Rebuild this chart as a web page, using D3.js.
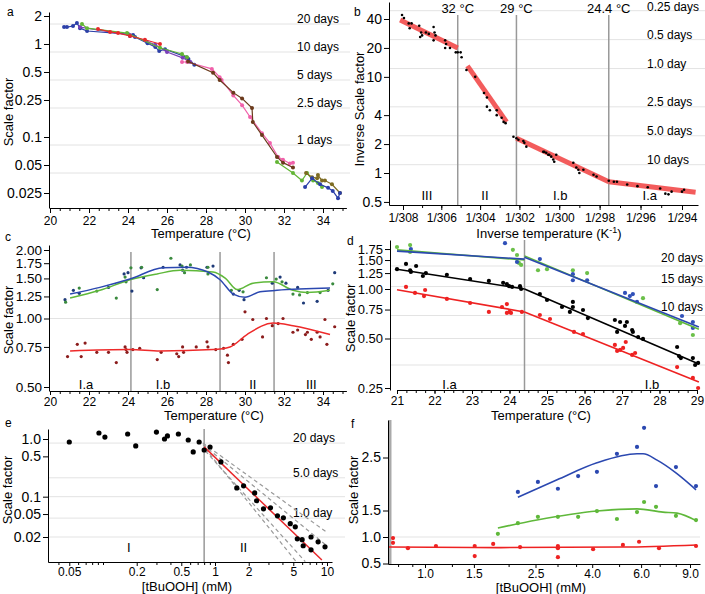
<!DOCTYPE html>
<html><head><meta charset="utf-8">
<script src="https://cdnjs.cloudflare.com/ajax/libs/d3/7.8.5/d3.min.js"></script>
<style>body{margin:0;background:#fff;}</style>
</head><body>
<svg id="c" width="705" height="594"></svg>
<script>
// ---------------- DATA ----------------
// Panel a : scale factor vs temperature (°C), several series
const aBlue1 = [[20.72,1.52],[20.87,1.52],[21.18,1.56],[21.38,1.68],[21.54,1.48],[21.9,1.38],[24.0,1.28],[24.1,1.22],[24.26,1.25],[24.36,1.19],[25.0,1.02],[25.4,0.93],[25.6,0.84],[25.9,0.88],[27.0,0.72],[27.1,0.69],[27.4,0.60]];
const aGreen1 = [[21.64,1.64],[21.9,1.48],[23.95,1.31],[25.64,0.91],[26.77,0.78],[27.03,0.72]];
const aRed = [[22.46,1.45],[23.08,1.35],[23.49,1.31],[24.1,1.22],[24.87,1.11],[25.64,1.0]];
const aPurple = [[21.54,1.52],[24.1,1.25],[25.4,0.98],[26.0,0.82],[26.8,0.71],[27.2,0.64]];
const aPink = [[26.77,0.64],[27.03,0.64],[28.3,0.54],[28.7,0.44],[28.8,0.41],[29.4,0.28],[29.85,0.22],[30.26,0.164],[30.87,0.11],[31.28,0.086],[31.7,0.061],[31.95,0.057],[32.3,0.052],[32.46,0.053]];
const aBrown = [[27.08,0.65],[28.36,0.49],[28.7,0.41],[29.4,0.30],[29.85,0.26],[30.36,0.205],[30.4,0.145],[30.87,0.105],[31.64,0.061],[31.95,0.053],[32.46,0.047]];
const aGreen2 = [[31.64,0.054],[32.46,0.041],[32.92,0.034],[33.18,0.041],[33.49,0.034],[33.74,0.032],[33.95,0.029]];
const aBlue2 = [[33.08,0.029],[33.44,0.036],[33.85,0.031],[34.26,0.0284],[34.5,0.0263],[34.77,0.022],[34.87,0.025]];
const aOlive = [[33.13,0.041],[33.44,0.037],[33.7,0.036],[33.74,0.039],[33.95,0.034],[34.1,0.034],[34.46,0.031],[34.87,0.025]];
const aTicksY = [2,1,0.5,0.25,0.1,0.05,0.025];
const aTicksX = [20,22,24,26,28,30,32,34];
const aGrid = [1.64,0.82,0.41,0.205,0.082,0.041];
const aDayLabels = ["20 days","10 days","5 days","2.5 days","1 days"];

// Panel b : inverse scale factor vs inverse temperature
const bDots = [[34.9,44],[34.8,41],[34.55,36],[34.4,36],[34.5,32],[34.0,34],[33.9,29],[33.85,27],[33.95,26],[33.65,29],[33.5,28],[33.25,33],[33.2,29],[33.15,27],[33.25,24],[32.65,24],[32.6,22],[32.65,20],[32.4,20],[32.1,18],[32.0,18],[31.85,18],[31.8,16],
 [31.55,11.8],[31.1,10],[30.65,6.8],[30.5,6.1],[30.5,4.9],[30.35,4.5],[30.0,4.5],[30.0,4.0],[29.75,3.76],[29.65,3.4],[29.55,3.3],
 [29.15,2.38],[29.0,2.3],[28.9,2.22],[28.65,2.15],[28.6,2.06],[28.5,1.88],[27.65,1.66],[27.6,1.66],[27.5,1.62],[27.4,1.55],[27.35,1.55],[27.25,1.48],[27.15,1.38],[27.1,1.31],[27.0,1.55],[26.15,1.28],[26.0,1.14],[25.9,1.08],[25.85,1.0],[25.65,1.08],[25.15,0.96],[25.0,0.92],
 [24.4,0.83],[24.15,0.81],[24.0,0.81],[23.5,0.76],[23.0,0.73],[22.5,0.71],[21.9,0.69],[21.65,0.61],[21.5,0.60],[21.35,0.64],[20.85,0.64],[20.75,0.67]];
const bFits = [[[35.0,39],[32,20]],[[31.5,13],[29.5,3.4]],[[29,2.3],[24.4,0.81]],[[24.4,0.81],[20.2,0.63]]];
const bBreaks = [32,29,24.4];
const bRegions = [["III",33.6],["II",30.6],["I.b",26.8],["I.a",22.4]];
const bTicksY = [40,20,10,4,2,1,0.5];
const bTicksK = [308,306,304,302,300,298,296,294];
const bGrid = [48.8,24.4,12.2,4.88,2.44,1.22];
const bDayLabels = ["0.25 days","0.5 days","1.0 day","2.5 days","5.0 days","10 days"];

// Panel c
const cUpperDots = [[20.77,1.21],[20.8,1.18],[21.2,1.33],[21.5,1.36],[21.5,1.29],[22.4,1.32],[23.0,1.37],[23.4,1.23],[23.8,1.57],[23.85,1.52],[24.0,1.59],[24.15,1.67],[24.2,1.32],[23.9,1.45],[24.67,1.67],[24.7,1.68],[24.8,1.51],[25.5,1.34],[25.8,1.68],[26.2,1.84],[26.67,1.72],[26.77,1.70],[26.8,1.63],[26.9,1.59],[27.0,1.68],[27.2,1.72],[28.05,1.68],[28.1,1.68],[28.36,1.70],[28.1,1.57],[29.4,1.28],[29.3,1.33],[29.7,1.33],[29.9,1.31],[29.95,1.21],[31.1,1.51],[31.4,1.43],[31.6,1.49],[31.8,1.52],[31.9,1.45],[32.1,1.43],[32.46,1.28],[32.7,1.37],[32.8,1.27],[33.0,1.17],[33.2,1.30],[33.7,1.19],[33.85,1.30],[34.26,1.33],[34.5,1.42],[34.6,1.59]];
const cRedDots = [[20.9,0.68],[21.4,0.77],[21.6,0.68],[21.8,0.78],[22.4,0.71],[23.0,0.71],[23.4,0.64],[23.85,0.75],[23.9,0.73],[23.95,0.71],[24.25,0.73],[24.6,0.74],[25.5,0.66],[25.7,0.71],[26.5,0.70],[26.6,0.68],[26.8,0.75],[26.85,0.71],[27.5,0.75],[28.05,0.79],[28.1,0.75],[28.5,0.73],[28.9,0.74],[29.1,0.69],[29.15,0.64],[29.4,0.77],[29.85,0.81],[30.0,1.07],[30.4,0.99],[30.9,0.83],[31.1,1.0],[31.4,0.93],[31.7,0.95],[31.95,1.0],[32.46,0.87],[32.7,0.89],[33.1,0.85],[33.2,0.87],[33.4,0.81],[33.7,0.87],[33.85,0.83],[34.1,0.99],[34.2,0.77],[34.6,0.92]];
const cBlueLine = [[21.03,1.28],[22.56,1.37],[24.1,1.49],[25.8,1.67],[27.0,1.68],[28.1,1.60],[28.72,1.48],[29.4,1.28],[30.0,1.24],[30.77,1.31],[31.64,1.33],[34.36,1.36]];
const cGreenLine = [[21.03,1.23],[22.56,1.33],[24.1,1.48],[25.49,1.57],[26.67,1.63],[28.36,1.60],[29.0,1.50],[29.6,1.34],[30.41,1.43],[31.44,1.45],[32.46,1.33],[33.18,1.30],[34.36,1.33]];
const cRedLine = [[21.03,0.72],[24.1,0.73],[25.64,0.72],[28.36,0.73],[29.23,0.75],[30.1,0.85],[31.44,0.955],[32.46,0.93],[34.36,0.85]];
const cBreaks = [24.15,28.72,31.49];
const cRegions = [["I.a",21.85],["I.b",25.8],["II",30.4],["III",33.4]];
const cTicksY = [2.00,1.75,1.50,1.25,1.00,0.75,0.50];

// Panel d
const dGreenDots = [[21.0,1.80],[21.35,1.85],[21.35,1.68],[24.09,1.73],[24.2,1.61],[24.25,1.44],[24.31,1.40],[24.76,1.30],[25.0,1.32],[25.69,1.30],[26.07,1.25],[27.56,0.88],[28.55,0.62],[28.89,0.525]];
const dBlueDots = [[21.37,1.75],[23.88,1.90],[24.2,1.46],[24.81,1.52],[25.69,1.23],[25.69,1.13],[26.07,1.13],[27.08,0.946],[27.21,0.906],[27.29,0.932],[27.4,0.834],[28.6,0.685],[28.89,0.63],[28.89,0.579]];
const dBlackDots = [[21.0,1.32],[21.24,1.42],[21.35,1.30],[21.37,1.27],[21.51,1.38],[21.69,1.20],[21.77,1.25],[22.33,1.22],[22.95,1.15],[23.45,1.12],[23.83,1.09],[23.93,1.07],[23.99,1.04],[24.07,1.03],[24.28,1.04],[24.31,1.0],[24.81,0.932],[25.0,0.857],[25.4,0.777],[25.61,0.725],[25.69,0.834],[25.69,0.777],[25.96,0.745],[26.09,0.666],[26.81,0.648],[26.87,0.548],[26.95,0.63],[27.08,0.596],[27.13,0.63],[27.27,0.563],[27.29,0.548],[27.43,0.51],[27.56,0.497],[28.47,0.444],[28.52,0.391],[28.57,0.38],[28.89,0.38],[28.95,0.345],[29.03,0.355]];
const dRedDots = [[21.24,1.03],[21.48,0.946],[21.72,0.906],[21.75,0.986],[22.33,0.87],[22.95,0.822],[23.45,0.725],[23.8,0.777],[23.93,0.81],[23.93,0.715],[24.0,0.725],[24.04,0.715],[24.33,0.725],[24.81,0.695],[25.08,0.657],[25.72,0.548],[25.96,0.532],[26.81,0.457],[26.87,0.42],[26.95,0.426],[27.03,0.438],[27.1,0.476],[27.27,0.397],[27.35,0.408],[28.47,0.335],[28.89,0.288],[29.03,0.25]];
const dGreenFit = [[[21.0,1.73],[24.4,1.50]],[[24.4,1.59],[29.05,0.57]]];
const dBlueFit = [[[21.0,1.70],[24.4,1.52]],[[24.4,1.56],[29.05,0.587]]];
const dBlackFit = [[[21.0,1.32],[24.4,1.0]],[[24.4,1.0],[29.05,0.35]]];
const dRedFit = [[[21.0,0.99],[24.4,0.725]],[[24.4,0.725],[29.05,0.272]]];
const dBreak = 24.4;
const dRegions = [["I.a",22.4],["I.b",27.8]];
const dTicksY = [1.75,1.50,1.25,1.00,0.75,0.50,0.25];
const dTicksX = [21,22,23,24,25,26,27,28,29];
const dGrid = [1.38,1.035,0.69,0.5,0.345];
const dDayLabels = ["20 days","15 days","10 days"];

// Panel e
const eDots = [[0.05,0.887],[0.092,1.27],[0.104,1.08],[0.166,1.22],[0.196,0.757],[0.30,1.32],[0.354,1.0],[0.376,1.13],[0.471,1.22],[0.577,0.96],[0.639,0.596],[0.722,0.887],[0.80,0.645],[0.903,0.727],[1.13,0.40],[1.565,0.142],[1.80,0.154],[2.26,0.116],[2.35,0.085],[2.71,0.0617],[3.13,0.064],[3.61,0.0465],[4.08,0.043],[4.70,0.034],[5.21,0.030],[5.43,0.0186],[6.0,0.018],[6.13,0.0141],[7.2,0.020],[7.2,0.012],[8.33,0.0165],[9.6,0.0135]];
const eFit = [[0.80,0.73],[9.0,0.008]];
const eDash = [[[0.78,0.85],[10,0.024]],[[0.78,0.80],[10,0.014]],[[0.82,0.62],[6.4,0.0075]],[[0.82,0.68],[5.3,0.0075]]];
const eBreak = 0.80;
const eRegions = [["I",0.17],["II",1.8]];
const eTicksY = [1.0,0.5,0.1,0.05,0.02];
const eTicksX = [0.05,0.2,0.5,1,2,5,10];
const eGrid = [0.85,0.2125,0.0425];
const eDayLabels = ["20 days","5.0 days","1.0 day"];

// Panel f
const fBlueDots = [[2.16,1.85],[2.55,2.04],[3.01,1.91],[3.56,2.15],[4.16,2.23],[4.91,2.57],[5.80,2.70],[6.15,3.06],[6.79,1.96],[8.01,2.32],[9.46,1.96]];
const fBlueLine = [[2.16,1.75],[2.99,2.08],[4.16,2.40],[5.80,2.57],[6.10,2.57],[6.85,2.45],[8.01,2.21],[9.23,1.94],[9.46,1.89]];
const fGreenDots = [[1.83,1.06],[2.16,1.26],[2.55,1.38],[3.01,1.38],[3.56,1.38],[4.16,1.49],[4.91,1.34],[5.80,1.47],[6.15,1.66],[6.79,1.57],[8.01,1.40],[9.46,1.32]];
const fGreenLine = [[1.83,1.17],[2.53,1.32],[4.16,1.49],[5.80,1.53],[7.19,1.47],[8.08,1.45],[9.54,1.30]];
const fRedDots = [[0.767,0.98],[0.767,0.89],[0.868,0.79],[1.095,0.83],[1.51,0.83],[1.51,0.64],[1.76,0.87],[2.20,0.81],[3.01,0.83],[3.01,0.79],[3.01,0.62],[4.03,0.77],[5.16,0.85],[5.90,0.91],[6.96,0.79],[9.46,0.83]];
const fRedLine = [[0.742,0.81],[1.83,0.80],[5.16,0.81],[9.54,0.85]];
const fTicksY = [2.5,1.5,1.0,0.5];
const fTicksX = [1.0,1.5,2.5,4.0,6.0,9.0];

// ---------------- DRAWING ----------------
const FONT = '"Liberation Sans", Arial, Helvetica, sans-serif';
const svg = d3.select('#c').attr('font-family', FONT);
svg.append('rect').attr('width',705).attr('height',594).attr('fill','#fff');
const GRID = '#e3e3e3';
const TX = 12;   // x tick label size
const DAYF = 12; // day annotation size

function ext(s, r0, r1){ return s.copy().domain([s.invert(r0), s.invert(r1)]).range([r0, r1]); }
function styleAx(g, fs){ g.attr('font-family', FONT).attr('font-size', fs); g.selectAll('text').attr('fill','#000'); g.selectAll('line,path').attr('stroke','#000'); return g; }
function axisL(y, x, vals, fmt, fs){ return styleAx(svg.append('g').attr('transform',`translate(${x},0)`).call(d3.axisLeft(y).tickValues(vals).tickFormat(fmt).tickSize(5).tickSizeOuter(0).tickPadding(2)), fs); }
function axisB(xs, y, vals, fmt, fs, ts=5, pad=3){ return styleAx(svg.append('g').attr('transform',`translate(0,${y})`).call(d3.axisBottom(xs).tickValues(vals).tickFormat(fmt).tickSize(ts).tickSizeOuter(0).tickPadding(pad)), fs); }
function minorB(xs, y, vals){ const g = svg.append('g').attr('transform',`translate(0,${y})`).call(d3.axisBottom(xs).tickValues(vals).tickFormat('').tickSize(3).tickSizeOuter(0)); g.select('.domain').remove(); g.selectAll('line').attr('stroke','#000'); }
function text(x, y, s, fs, anchor='start', rot=false){ const t = svg.append('text').attr('font-size', fs).attr('text-anchor', anchor).attr('fill','#000').text(s); if(rot) t.attr('transform',`translate(${x},${y}) rotate(-90)`); else t.attr('x',x).attr('y',y); return t; }
function hgrid(y, vals, x0, x1){ svg.append('g').selectAll('line').data(vals).join('line').attr('x1',x0).attr('x2',x1).attr('y1',d=>y(d)).attr('y2',d=>y(d)).attr('stroke',GRID).attr('stroke-width',1); }
function dots(data, x, y, r, col){ svg.append('g').selectAll('circle').data(data).join('circle').attr('cx',d=>x(d[0])).attr('cy',d=>y(d[1])).attr('r',r).attr('fill',typeof col==='function'?((d,i)=>col(i)):col); }
function path(data, x, y, col, w, curve=d3.curveLinear, dash=null, op=1){ const p = svg.append('path').datum(data).attr('d', d3.line().x(d=>x(d[0])).y(d=>y(d[1])).curve(curve)).attr('fill','none').attr('stroke',col).attr('stroke-width',w).attr('opacity',op); if(dash) p.attr('stroke-dasharray',dash); return p; }
function range(a,b,s){ const r=[]; for(let v=a; v<=b+1e-9; v+=s) r.push(+v.toFixed(4)); return r; }

// ===== Panel a =====
{
  const x = d3.scaleLinear().domain([20,35.2]).range([50,346.4]);
  const y = ext(d3.scaleLog().domain([2,0.025]).range([16,193]), 12, 208);
  hgrid(y, aGrid, 49, 350);
  aDayLabels.forEach((s,i)=> text(297, y(aGrid[i])-1, s, DAYF));
  axisL(y, 49, aTicksY, d=>String(d), 14);
  minorB(x, 208, range(20,35,0.5));
  axisB(x, 208, aTicksX, d=>d, TX);
  const series = [[aBlue1,'#2b3fa8'],[aPurple,'#7a3fb8'],[aGreen1,'#62b534'],[aRed,'#e8282b'],[aPink,'#f060aa'],[aBrown,'#6b3a1c'],[aGreen2,'#62b534'],[aOlive,'#7d6b22'],[aBlue2,'#2b3fa8']];
  series.forEach(([d,c])=>{ path(d,x,y,c,1.2); dots(d,x,y,2,c); });
  text(201, 238, 'Temperature (°C)', 13, 'middle');
  text(13, 112, 'Scale factor', 13, 'middle', true);
  text(7, 16, 'a', 12);
}

// ===== Panel b =====
{
  const xi = d3.scaleLinear().domain([1/308, 1/294]).range([403,682]);
  const xe = ext(xi, 389, 698);
  const xT = t => xe(1/(t+273.15));
  const y = ext(d3.scaleLog().domain([40,1]).range([19,173]), 2, 205);
  hgrid(y, bGrid, 389, 705);
  bDayLabels.forEach((s,i)=> text(647, Math.max(11, y(bGrid[i])-1), s, DAYF));
  bBreaks.forEach(b=>{
    svg.append('line').attr('x1',xT(b)).attr('x2',xT(b)).attr('y1',15).attr('y2',205).attr('stroke','#999').attr('stroke-width',1.5);
    text(xT(b), 13, b+' °C', 13, 'middle');
  });
  axisL(y, 389, bTicksY, d=>String(d), 14);
  minorB(xe, 205, range(294,308,1).map(k=>1/k));
  axisB(xe, 205, bTicksK.map(k=>1/k), v=>'1/'+Math.round(1/v), TX);
  bFits.forEach(f=> path(f, xT, y, '#f24a4a', 5, d3.curveLinear, null, 0.9));
  dots(bDots, xT, y, 1.3, '#000');
  bRegions.forEach(([s,t])=> text(xT(t), 200, s, 13, 'middle'));
  const tt = text(549, 238, 'Inverse temperature (K', 13, 'middle');
  tt.append('tspan').attr('baseline-shift','super').attr('font-size',9).text('-1');
  tt.append('tspan').text(')');
  text(364, 109, 'Inverse Scale factor', 13, 'middle', true);
  text(354, 16, 'b', 12);
}

// ===== Panel c =====
{
  const x = d3.scaleLinear().domain([20,35.2]).range([50,346.4]);
  const y = ext(d3.scaleLog().domain([2,0.5]).range([250,387]), 245, 391);
  hgrid(y, [1.0], 49, 345);
  cBreaks.forEach(b=> svg.append('line').attr('x1',x(b)).attr('x2',x(b)).attr('y1',252).attr('y2',391).attr('stroke','#999').attr('stroke-width',1.5));
  axisL(y, 49, cTicksY, d=>d.toFixed(2), 13.5);
  minorB(x, 391, range(20,35,0.5));
  axisB(x, 391, aTicksX, d=>d, TX, 4, 2);
  dots(cUpperDots, x, y, 1.6, i=> i%2 ? '#3a8a3e' : '#1e3a78');
  dots(cRedDots, x, y, 1.6, '#8b1c1c');
  path(cGreenLine, x, y, '#5fb83a', 1.5, d3.curveMonotoneX);
  path(cBlueLine, x, y, '#2b48b0', 1.5, d3.curveMonotoneX);
  path(cRedLine, x, y, '#ee2a2a', 1.5, d3.curveMonotoneX);
  cRegions.forEach(([s,t])=> text(x(t), 389, s, 13, 'middle'));
  text(214, 420, 'Temperature (°C)', 13, 'middle');
  text(13, 320, 'Scale factor', 13, 'middle', true);
  text(5, 241, 'c', 12);
}

// ===== Panel d =====
{
  const x = d3.scaleLinear().domain([21,29]).range([397,697]);
  const y = ext(d3.scaleLog().domain([1,0.25]).range([289,388]), 240, 390);
  hgrid(y, dGrid, 390, 705);
  dDayLabels.forEach((s,i)=> text(661, y(dGrid[i])-4, s, DAYF));
  svg.append('line').attr('x1',x(dBreak)).attr('x2',x(dBreak)).attr('y1',240).attr('y2',390).attr('stroke','#999').attr('stroke-width',1.5);
  axisL(y, 390, dTicksY, d=>d.toFixed(2), 13);
  minorB(x, 390, range(21,29,0.25));
  axisB(x, 390, dTicksX, d=>d, TX, 4, 2);
  [[dGreenDots,'#6cc04a'],[dBlueDots,'#3050b8'],[dBlackDots,'#000'],[dRedDots,'#ee2222']].forEach(([d,c])=> dots(d,x,y,2.1,c));
  [[dGreenFit,'#5fb83a'],[dBlueFit,'#2b48b0'],[dBlackFit,'#000'],[dRedFit,'#ee2222']].forEach(([f,c])=> f.forEach(seg=> path(seg,x,y,c,1.6)));
  dRegions.forEach(([s,t])=> text(x(t), 389, s, 13, 'middle'));
  text(541, 420, 'Temperature (°C)', 13, 'middle');
  text(355, 318, 'Scale factor', 13, 'middle', true);
  text(347, 245, 'd', 12);
}

// ===== Panel e =====
{
  const x = ext(d3.scaleLog().domain([1,10]).range([215,327]), 48, 332);
  const y = ext(d3.scaleLog().domain([1,0.02]).range([439,537]), 429, 562);
  hgrid(y, eGrid.concat([0.1,0.02]), 48, 345);
  eDayLabels.forEach((s,i)=> text(293, y(eGrid[i])-1, s, DAYF));
  svg.append('line').attr('x1',x(eBreak)).attr('x2',x(eBreak)).attr('y1',429).attr('y2',562).attr('stroke','#999').attr('stroke-width',1.5);
  axisL(y, 48, eTicksY, d=>String(d).length<3? d.toFixed(1): String(d), 14);
  minorB(x, 562, [0.04,0.06,0.07,0.08,0.09,0.1,0.3,0.4,0.6,0.7,0.8,0.9,3,4,6,7,8,9]);
  axisB(x, 562, eTicksX, d=>String(d), TX, 4, 1);
  eDash.forEach(seg=> path(seg, x, y, '#999', 1.2, d3.curveLinear, '4,3'));
  path(eFit, x, y, '#e8282b', 1.5);
  dots(eDots, x, y, 2.6, '#000');
  eRegions.forEach(([s,t])=> text(x(t), 552, s, 13, 'middle'));
  text(187, 591, '[tBuOOH] (mM)', 13, 'middle');
  text(12, 490, 'Scale factor', 13, 'middle', true);
  text(5, 427, 'e', 12);
}

// ===== Panel f =====
{
  const x = ext(d3.scaleLog().domain([1,9]).range([425,690]), 388, 700);
  const y = ext(d3.scaleLinear().domain([1,2.5]).range([537,457.5]), 420, 564);
  hgrid(y, [1.0], 388, 700);
  svg.append('line').attr('x1',390).attr('x2',390).attr('y1',420).attr('y2',564).attr('stroke','#aaa').attr('stroke-width',3);
  axisL(y, 388, fTicksY, d=>d.toFixed(1), 14);
  minorB(x, 564, [0.8,0.9,1.25,2,3,3.5,5,7,8]);
  axisB(x, 564, fTicksX, d=>d.toFixed(1), TX, 4, 1);
  path(fBlueLine, x, y, '#2b48b0', 1.6, d3.curveMonotoneX);
  path(fGreenLine, x, y, '#5fb83a', 1.6, d3.curveMonotoneX);
  path(fRedLine, x, y, '#ee2222', 1.6, d3.curveMonotoneX);
  dots(fBlueDots, x, y, 2.1, '#2b48b0');
  dots(fGreenDots, x, y, 2.1, '#5fb83a');
  dots(fRedDots, x, y, 2.1, '#ee2222');
  text(541, 592, '[tBuOOH] (mM)', 13, 'middle');
  text(358, 490, 'Scale factor', 13, 'middle', true);
  text(351, 428, 'f', 12);
}
</script>
</body></html>
